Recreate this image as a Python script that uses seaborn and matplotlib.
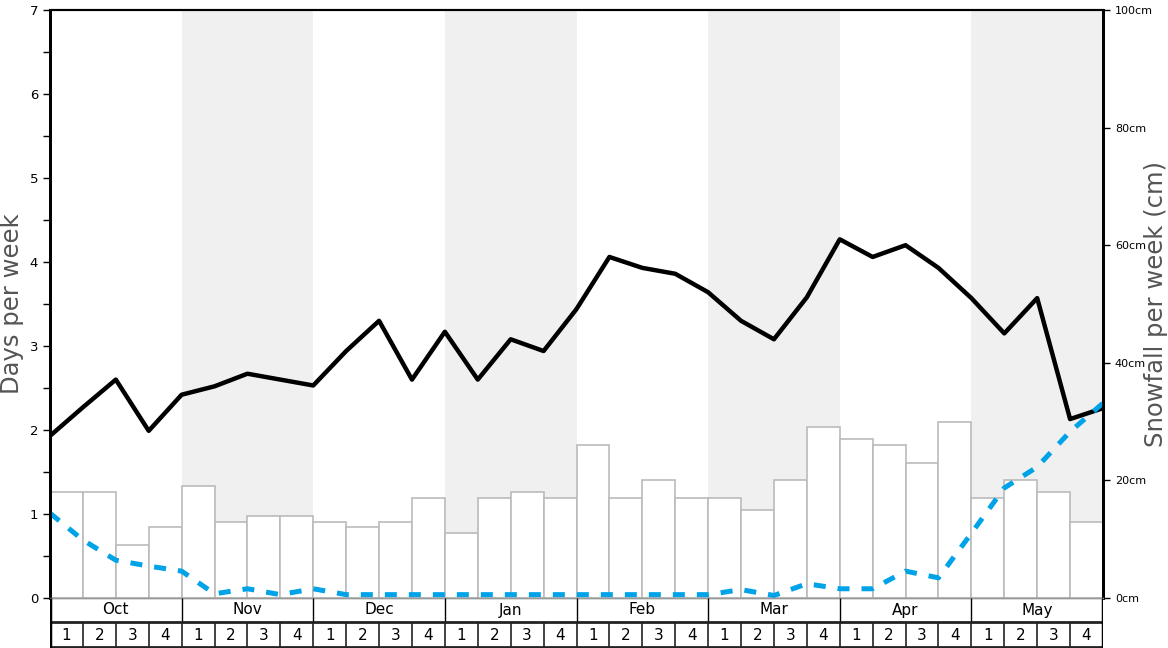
import matplotlib
matplotlib.use("Agg")
import matplotlib.pyplot as plt
import numpy as np
import pandas as pd
import seaborn as sns

# month / week layout
months = ["Oct", "Nov", "Dec", "Jan", "Feb", "Mar", "Apr", "May"]
week_labels = ["1", "2", "3", "4"] * len(months)

# weekly snowfall (cm), one bar per week
snowfall_cm = [18, 18, 9, 12, 19, 13, 14, 14, 13, 12, 13, 17, 11, 17, 18, 17,
               26, 17, 20, 17, 17, 15, 20, 29, 27, 26, 23, 30, 17, 20, 18, 13]

# days per week, values at week boundaries
snow_days = [1.93, 2.27, 2.60, 1.99, 2.42, 2.52, 2.67, 2.60, 2.53, 2.94, 3.30,
             2.60, 3.17, 2.60, 3.08, 2.94, 3.44, 4.06, 3.93, 3.86, 3.64, 3.30,
             3.08, 3.58, 4.27, 4.06, 4.20, 3.93, 3.57, 3.15, 3.57, 2.13, 2.26]
other_days = [1.01, 0.69, 0.45, 0.38, 0.32, 0.05, 0.11, 0.04, 0.11, 0.04, 0.04,
              0.04, 0.04, 0.04, 0.04, 0.04, 0.04, 0.04, 0.04, 0.04, 0.04, 0.10,
              0.03, 0.17, 0.11, 0.11, 0.32, 0.24, 0.77, 1.31, 1.56, 1.98, 2.32]

n_weeks = len(snowfall_cm)
bars = pd.DataFrame({"pos": np.arange(n_weeks) + 0.5, "snow": snowfall_cm})
lines = pd.DataFrame({"pos": np.arange(n_weeks + 1),
                      "snow_days": snow_days, "other_days": other_days})

W, H = 1168, 648
left, right, bottom, top = 50 / W, 1103 / W, 50 / H, 10 / H

fig = plt.figure(figsize=(W / 100, H / 100), dpi=100)
ax = fig.add_axes([left, bottom, right - left, 1 - top - bottom])

# shaded alternate months
for m in range(1, len(months), 2):
    ax.axvspan(m * 4, m * 4 + 4, color="#f0f0f0", lw=0, zorder=0)

sns.barplot(data=bars, x="pos", y="snow", native_scale=True, width=1,
            color="white", edgecolor="#bbbbbb", linewidth=1.2, saturation=1,
            ax=ax, zorder=2)
ax.set_xlim(0, n_weeks)
ax.set_ylim(0, 100)
ax.set_xlabel("")
ax.set_xticks([])

ax2 = ax.twinx()
sns.lineplot(data=lines, x="pos", y="snow_days", color="black", lw=3.2, ax=ax2)
sns.lineplot(data=lines, x="pos", y="other_days", color="#00a2e8", lw=3.6, ax=ax2,
             dashes=False)
ax2.lines[-1].set_dashes((2.4, 2.4))
ax2.set_xlim(0, n_weeks)
ax2.set_ylim(0, 7)
ax2.set_xlabel("")
ax2.set_xticks([])

# snowfall scale on the right, days scale on the left
ax.yaxis.tick_right()
ax.yaxis.set_label_position("right")
ax2.yaxis.tick_left()
ax2.yaxis.set_label_position("left")
ax.set_yticks(range(0, 101, 20))
ax.set_yticklabels([f"{v}cm" for v in range(0, 101, 20)], fontsize=8)
ax.tick_params(axis="y", length=5, width=1)
ax2.set_yticks(range(0, 8))
ax2.set_yticks(np.arange(0.5, 7, 1), minor=True)
ax2.tick_params(axis="y", which="both", labelsize=9.5, length=5, width=1)

ax.set_ylabel("Snowfall per week (cm)", fontsize=17.5, color="#555555",
              ha="center", va="center")
ax.yaxis.set_label_coords(1.0503, 0.5)
ax2.set_ylabel("Days per week", fontsize=17.5, color="#555555",
               ha="center", va="center")
ax2.yaxis.set_label_coords(-0.0365, 0.5)

for a in (ax, ax2):
    a.spines["top"].set_linewidth(1.5)
    a.spines["left"].set_linewidth(2)
    a.spines["right"].set_linewidth(2)
    a.spines["bottom"].set_color("#999999")
    a.spines["bottom"].set_linewidth(1)

# month / week table below the plot
tab = fig.add_axes([left, 0, right - left, bottom])
tab.set_xlim(0, n_weeks)
tab.set_ylim(0, 50)
tab.axis("off")
tab.vlines(np.arange(4, n_weeks, 4), 26, 50, color="black", lw=1)
tab.vlines(np.arange(1, n_weeks), 0, 26, color="#222222", lw=1.2)
tab.hlines(26, 0, n_weeks, color="#222222", lw=2)
tab.hlines(0.8, 0, n_weeks, color="#222222", lw=2)
tab.vlines([0, n_weeks], 0, 50, color="black", lw=2.5)
for i, m in enumerate(months):
    tab.text(i * 4 + 2, 38, m, ha="center", va="center", fontsize=11)
for i, w in enumerate(week_labels):
    tab.text(i + 0.5, 12.5, w, ha="center", va="center", fontsize=11)

fig.savefig("out.png", dpi=100)
